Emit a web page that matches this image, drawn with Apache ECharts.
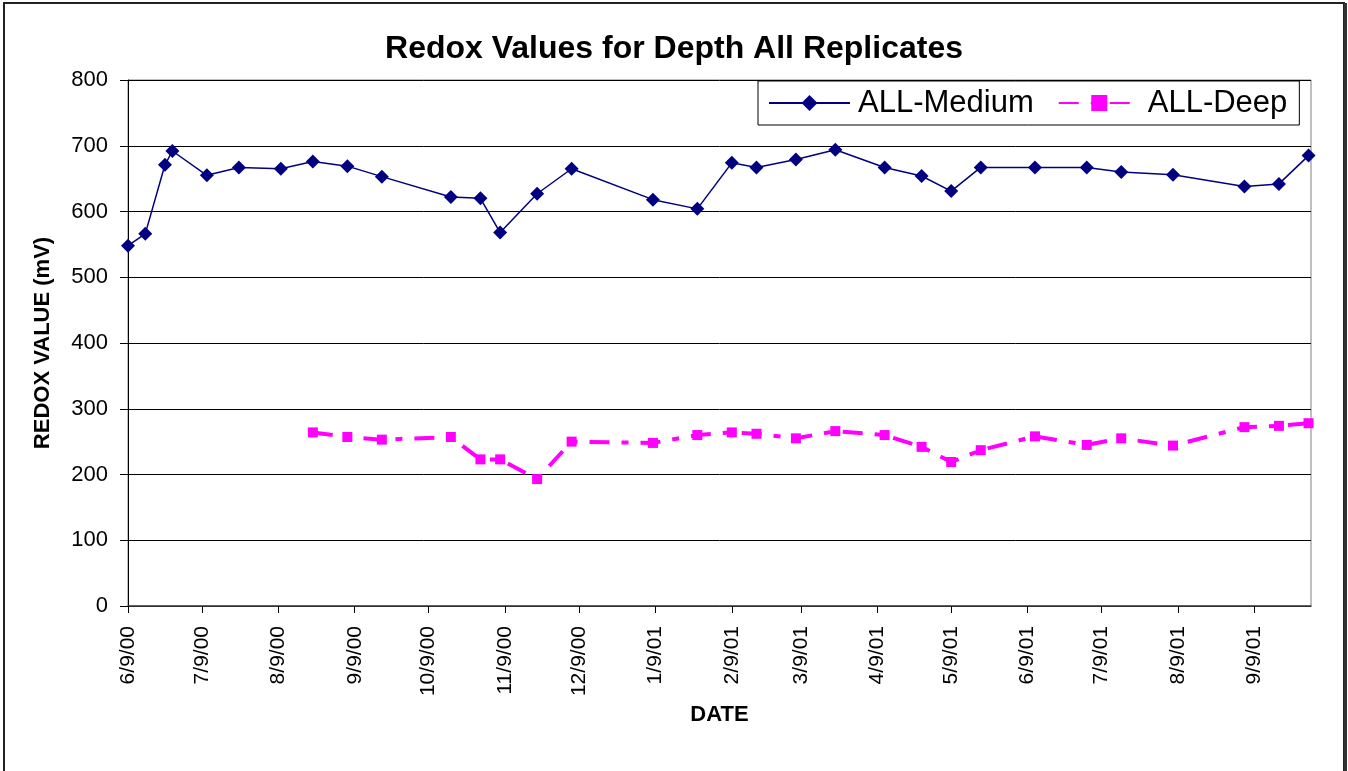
<!DOCTYPE html>
<html>
<head>
<meta charset="utf-8">
<title>Redox Values</title>
<script src="https://cdn.jsdelivr.net/npm/echarts@6/dist/echarts.min.js"></script>
<style>
    html, body { margin: 0; padding: 0; background: #fff; }
    #chart { width: 1348px; height: 771px; }
</style>
</head>
<body>
<div id="chart"></div>
<script>
// sample dates (M/D/YY), shared by both series
const sampleDates = ['6/9/00','6/16/00','6/24/00','6/27/00','7/11/00','7/24/00','8/10/00','8/23/00',
    '9/6/00','9/20/00','10/18/00','10/30/00','11/7/00','11/22/00','12/6/00','1/8/01','1/26/01',
    '2/9/01','2/19/01','3/7/01','3/23/01','4/12/01','4/27/01','5/9/01','5/21/01','6/12/01',
    '7/3/01','7/17/01','8/7/01','9/5/01','9/19/01','10/1/01'];
const mediumValues = [548,566,671,692,655,667,665,676,669,653,622,620,568,627,665,618,604,
    674,667,679,694,667,654,631,667,667,667,660,656,638,642,685];
const deepValues = [null,null,null,null,null,null,null,264,257,253,257,223,223,193,250,248,260,
    264,262,255,266,260,242,219,237,258,245,255,244,272,274,278];
const tickDates = ['6/9/00','7/9/00','8/9/00','9/9/00','10/9/00','11/9/00','12/9/00','1/9/01',
    '2/9/01','3/9/01','4/9/01','5/9/01','6/9/01','7/9/01','8/9/01','9/9/01'];
const axisStart = '6/9/00';
const axisEnd = '10/2/01';

const font = "'Liberation Sans', Arial, sans-serif";

function parseDate(s) {
    const p = s.split('/');
    return Date.UTC(2000 + Number(p[2]), Number(p[0]) - 1, Number(p[1]));
}
function fmtDate(v) {
    const d = new Date(v);
    const yy = String(d.getUTCFullYear() % 100).padStart(2, '0');
    return (d.getUTCMonth() + 1) + '/' + d.getUTCDate() + '/' + yy;
}
function pairs(values) {
    const out = [];
    for (let i = 0; i < values.length; i++) {
        if (values[i] == null) continue;
        out.push([parseDate(sampleDates[i]), values[i]]);
    }
    return out;
}

const ticks = tickDates.map(parseDate);
const chart = echarts.init(document.getElementById('chart'));

chart.setOption({
    animation: false,
    backgroundColor: '#fff',
    textStyle: { fontFamily: font },
    title: {
        text: 'Redox Values for Depth All Replicates',
        left: 'center',
        top: 28,
        textStyle: { fontFamily: font, fontSize: 32, fontWeight: 'bold', color: '#000' }
    },
    legend: {
        left: 758,
        top: 81,
        orient: 'horizontal',
        itemWidth: 81,
        itemHeight: 20,
        itemGap: 24,
        padding: [6, 12, 6, 10],
        borderColor: '#000',
        borderWidth: 1,
        backgroundColor: '#fff',
        textStyle: { fontFamily: font, fontSize: 31, color: '#000', lineHeight: 32, padding: [0, 0, 0, 3] },
        data: ['ALL-Medium', 'ALL-Deep']
    },
    grid: {
        left: 128,
        right: 37,
        top: 80,
        bottom: 165,
        show: true,
        borderColor: '#808080',
        borderWidth: 1
    },
    xAxis: {
        type: 'value',
        min: parseDate(axisStart),
        max: parseDate(axisEnd),
        name: 'DATE',
        nameLocation: 'middle',
        nameGap: 91,
        nameTextStyle: { fontFamily: font, fontSize: 22, fontWeight: 'bold', color: '#000' },
        axisLine: { lineStyle: { color: '#404040', width: 1.5 } },
        axisTick: { show: true, length: 7, customValues: ticks, lineStyle: { color: '#000' } },
        axisLabel: {
            customValues: ticks,
            rotate: 90,
            margin: 20,
            fontSize: 21,
            color: '#000',
            fontFamily: font,
            formatter: fmtDate
        },
        splitLine: { show: false }
    },
    yAxis: {
        type: 'value',
        min: 0,
        max: 800,
        interval: 100,
        name: 'REDOX VALUE (mV)',
        nameLocation: 'middle',
        nameGap: 74,
        nameTextStyle: { fontFamily: font, fontSize: 22, fontWeight: 'bold', color: '#000' },
        axisLine: { show: true, lineStyle: { color: '#000', width: 1 } },
        axisTick: { show: true, length: 8, lineStyle: { color: '#000' } },
        axisLabel: { margin: 20, fontSize: 22, color: '#000', fontFamily: font },
        splitLine: { show: true, lineStyle: { color: '#000', width: 1 } }
    },
    series: [
        {
            name: 'ALL-Medium',
            type: 'line',
            data: pairs(mediumValues),
            symbol: 'diamond',
            symbolSize: 14,
            lineStyle: { color: '#000080', width: 1.5 },
            itemStyle: { color: '#000080' }
        },
        {
            name: 'ALL-Deep',
            type: 'line',
            data: pairs(deepValues),
            symbol: 'rect',
            symbolSize: 10,
            lineStyle: { color: '#ff00ff', width: 4, type: [20, 12, 7, 12] },
            itemStyle: { color: '#ff00ff' }
        }
    ],
    graphic: [
        {
            type: 'rect',
            shape: { x: 4, y: 3, width: 1340, height: 800 },
            style: { fill: 'none', stroke: '#222', lineWidth: 2 },
            silent: true
        },
        {
            type: 'rect',
            shape: { x: 1344, y: 3, width: 3, height: 800 },
            style: { fill: '#333' },
            silent: true
        }
    ]
});
</script>
</body>
</html>
